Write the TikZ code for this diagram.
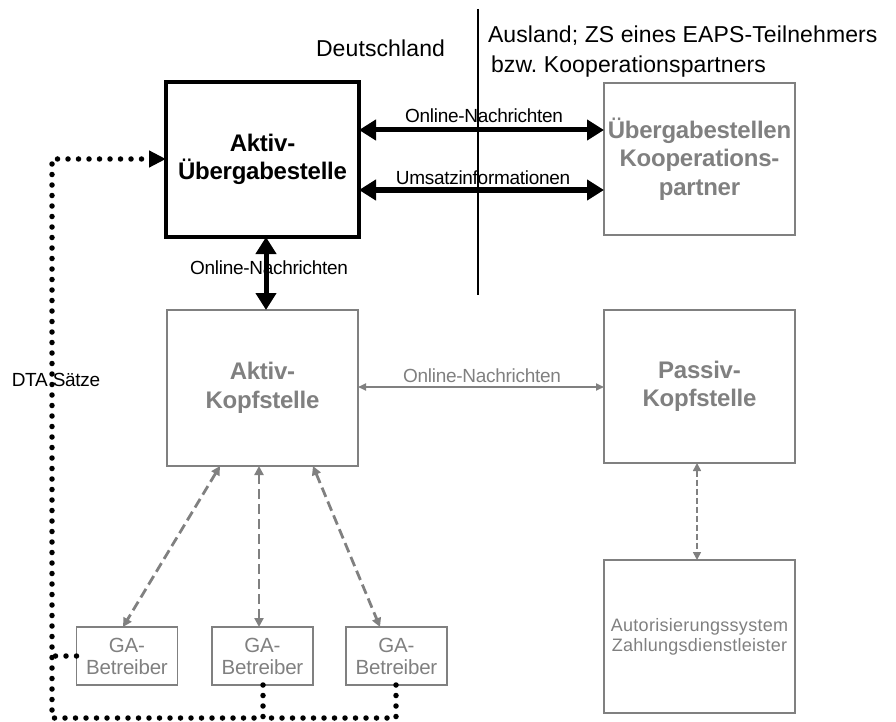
\documentclass[tikz,border=0pt]{standalone}
\usepackage{fontspec}
\setmainfont{Liberation Sans}
\usetikzlibrary{arrows.meta}
\definecolor{boxgray}{RGB}{128,128,128}
\frenchspacing

\begin{document}
\begin{tikzpicture}[x=1pt,y=-1pt,
  every node/.style={inner sep=0pt, outer sep=0pt},
  mainbox/.style={draw, line width=4.5pt, align=center,
    font=\fontsize{24}{28}\selectfont\bfseries\addfontfeature{LetterSpace=-1}},
  greybox/.style={draw=boxgray, line width=1.8pt, text=boxgray, align=center},
  greybold/.style={greybox,
    font=\fontsize{24}{28.5}\selectfont\bfseries\addfontfeature{LetterSpace=-1}},
  gabox/.style={greybox, minimum width=101pt, minimum height=58pt,
    font=\fontsize{20.5}{22}\selectfont\addfontfeature{LetterSpace=-1}},
  lbl/.style={anchor=base,
    font=\fontsize{19}{20}\selectfont\addfontfeature{LetterSpace=-1.5}},
  head/.style={anchor=base west,
    font=\fontsize{23}{25}\selectfont\addfontfeature{LetterSpace=0.5}},
  bigarrow/.style={line width=5pt,
    {Triangle[length=17pt,width=20pt]}-{Triangle[length=17pt,width=20pt]}},
  thinarrow/.style={draw=boxgray, line width=1.8pt,
    {Triangle[length=8pt,width=7pt]}-{Triangle[length=8pt,width=7pt]}},
  dasharrow/.style={draw=boxgray, line width=2.8pt, dash pattern=on 10pt off 5pt,
    {Triangle[length=9pt,width=9pt]}-{Triangle[length=9pt,width=9pt]}},
  finedash/.style={draw=boxgray, line width=1.6pt, dash pattern=on 6pt off 3pt,
    {Triangle[length=8pt,width=8pt]}-{Triangle[length=8pt,width=8pt]}},
  dotline/.style={line width=5.5pt, line cap=round, dash pattern=on 0pt off 10.5pt}
]
\useasboundingbox (0,0) rectangle (896,722);

% headings and border line
\node[head] (de) at (316,57) {Deutschland};
\node[head] (aus1) at (488,43) {Ausland; ZS eines EAPS-Teilnehmers};
\node[head] (aus2) at (491,73) {bzw.\ Kooperationspartners};
\coordinate (septop) at (478,9);
\coordinate (sepbot) at (478,295);
\draw[line width=1.5pt] (septop) -- (sepbot);

% boxes
\node[mainbox, minimum width=193pt, minimum height=155pt] (aue) at (262.5,159.5)
  {Aktiv-\\Übergabestelle};
\node[greybold, minimum width=191pt, minimum height=152pt] (uek) at (699.5,159)
  {Übergabestellen\\Kooperations-\\partner};
\node[greybold, minimum width=191pt, minimum height=156pt] (ak) at (262.5,388)
  {Aktiv-\\Kopfstelle};
\node[greybold, minimum width=191pt, minimum height=153pt] (pk) at (699.5,386.5)
  {Passiv-\\Kopfstelle};
\node[greybox, minimum width=191pt, minimum height=153pt,
  font=\fontsize{18}{20}\selectfont\addfontfeature{LetterSpace=1.5}] (az) at (699.5,636.5)
  {Autorisierungssystem\\Zahlungsdienstleister};
\node[gabox] (ga1) at (127,656) {GA-\\Betreiber};
\node[gabox] (ga2) at (262.5,656) {GA-\\Betreiber};
\node[gabox] (ga3) at (396.5,656) {GA-\\Betreiber};

% black connections of the transfer point
\draw[bigarrow] (aue.east |- 0,130) -- (uek.west |- 0,130);
\draw[bigarrow] (aue.east |- 0,190) -- (uek.west |- 0,190);
\draw[bigarrow] (aue.south -| 266,0) -- (ak.north -| 266,0);
\node[lbl] (l1) at (484,123) {Online-Nachrichten};
\node[lbl] (l2) at (483,185) {Umsatzinformationen};
\node[lbl] (l3) at (269,274) {Online-Nachrichten};

% grey connections
\draw[thinarrow] (ak.east |- 0,387) -- (pk.west |- 0,387);
\node[lbl, text=boxgray] (l4) at (482,382) {Online-Nachrichten};
\draw[dasharrow] (ak.south -| 220,0) -- (ga1.north -| 123,0);
\draw[dasharrow] (ak.south -| 259,0) -- (ga2.north -| 259,0);
\draw[dasharrow] (ak.south -| 313,0) -- (ga3.north -| 380,0);
\draw[finedash] (pk.south -| 697,0) -- (az.north -| 697,0);

% DTA records (dotted)
\draw[dotline, -{Triangle[length=17pt,width=16pt]}]
  (ga2.south -| 263,0) -- (263,718) -- (52,718) -- (52,159) -- (aue.west |- 0,159);
\draw[dotline] (ga3.south -| 396,0) -- (396,718) -- (263,718);
\draw[dotline] (ga1.west) -- (52,656);
\node[lbl] (dta) at (56,386) {DTA Sätze};
\end{tikzpicture}
\end{document}
